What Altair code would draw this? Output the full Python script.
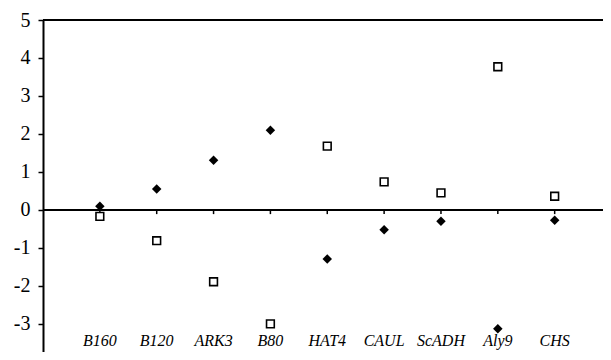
import altair as alt
import pandas as pd

categories = ["B160", "B120", "ARK3", "B80", "HAT4", "CAUL", "ScADH", "Aly9", "CHS"]
series_diamond = [0.10, 0.55, 1.31, 2.10, -1.29, -0.52, -0.30, -3.13, -0.27]
series_square = [-0.17, -0.81, -1.89, -3.00, 1.68, 0.74, 0.45, 3.77, 0.36]
y_ticks = [-3, -2, -1, 0, 1, 2, 3, 4, 5]
h_lines = [5, 0]

FONT = "Liberation Serif"

df = pd.DataFrame({
    "cat": categories,
    "pos": list(range(1, len(categories) + 1)),
    "d": series_diamond,
    "s": series_square,
})
lines_df = pd.DataFrame({"yv": h_lines})

xs = alt.Scale(domain=[0, 9.85], nice=False, zero=False)
ys = alt.Scale(domain=[-3.74, 5], nice=False, zero=False)

base = alt.Chart(df)

yaxis = alt.Axis(values=y_ticks, grid=False, domainColor="black", domainWidth=2,
                 tickColor="black", tickWidth=1.5, tickSize=5,
                 labelFont=FONT, labelFontSize=20, labelColor="black",
                 labelPadding=8, title=None,
                 labelExpr="replace(toString(datum.value), '\u2212', '-')")

diamonds = base.mark_point(shape="diamond", filled=True, color="black", size=90, opacity=1).encode(
    x=alt.X("pos:Q", scale=xs, axis=None),
    y=alt.Y("d:Q", scale=ys, axis=yaxis),
)

squares = base.mark_point(shape="square", filled=False, stroke="black", fill="white",
                          fillOpacity=1, strokeWidth=1.6, size=60, opacity=1).encode(
    x=alt.X("pos:Q", scale=xs, axis=None),
    y=alt.Y("s:Q", scale=ys),
)

hlines = alt.Chart(lines_df).transform_calculate(x0="0", x1="9.85").mark_rule(
    color="black", strokeWidth=2).encode(
    x=alt.X("x0:Q", scale=xs, axis=None), x2="x1:Q",
    y=alt.Y("yv:Q", scale=ys),
)
cat_ticks = base.transform_calculate(t0="0", t1="-0.11").mark_rule(
    color="black", strokeWidth=1.5).encode(
    x=alt.X("pos:Q", scale=xs, axis=None), y=alt.Y("t0:Q", scale=ys), y2="t1:Q"
)
labels = base.transform_calculate(ly="-3.45").mark_text(
    font=FONT, fontSize=16, fontStyle="italic",
    color="black", baseline="middle", align="center").encode(
    x=alt.X("pos:Q", scale=xs, axis=None), y=alt.Y("ly:Q", scale=ys), text="cat:N"
)

chart = alt.layer(hlines, cat_ticks, labels, squares, diamonds).properties(
    width=560, height=332,
    autosize=alt.AutoSizeParams(type="none"),
    padding={"left": 35, "top": 12, "right": 0, "bottom": 0},
).configure_view(stroke=None)

chart.save("out.html", embed_options={"renderer": "svg", "actions": False})
